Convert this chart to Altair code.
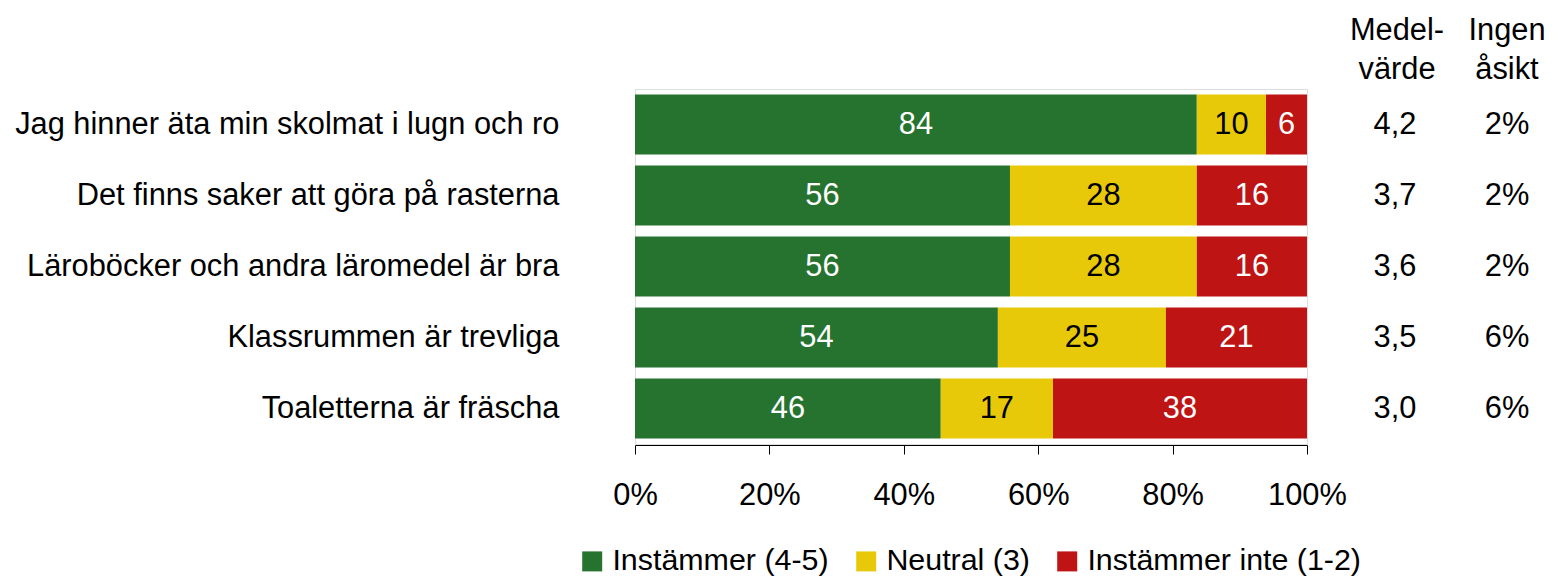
import altair as alt
import pandas as pd

statements = [
    "Jag hinner äta min skolmat i lugn och ro",
    "Det finns saker att göra på rasterna",
    "Läroböcker och andra läromedel är bra",
    "Klassrummen är trevliga",
    "Toaletterna är fräscha",
]
agree = [83.6, 55.8, 55.8, 54.0, 45.5]
neutral = [10.3, 27.8, 27.8, 25.0, 16.7]
disagree = [6.1, 16.4, 16.4, 21.0, 37.8]
agree_lbl = ["84", "56", "56", "54", "46"]
neutral_lbl = ["10", "28", "28", "25", "17"]
disagree_lbl = ["6", "16", "16", "21", "38"]
medel = ["4,2", "3,7", "3,6", "3,5", "3,0"]
ingen = ["2%", "2%", "2%", "6%", "6%"]
categories = ["Instämmer (4-5)", "Neutral (3)", "Instämmer inte (1-2)"]
colors = ["#267330", "#E8C90A", "#BE1414"]
text_colors = ["white", "black", "white"]
tick_values = [0, 20, 40, 60, 80, 100]
header_medel = ["Medel-", "värde"]
header_ingen = ["Ingen", "åsikt"]

FONT = "Liberation Sans"
FS = 30.8

rows = []
for i, s in enumerate(statements):
    start = 0.0
    for k, (vals, lbls) in enumerate([(agree, agree_lbl), (neutral, neutral_lbl), (disagree, disagree_lbl)]):
        v = vals[i]
        rows.append({
            "statement": s, "category": categories[k], "order": k,
            "start": start, "end": start + v, "mid": start + v / 2,
            "label": lbls[i], "tcolor": text_colors[k],
        })
        start += v
df = pd.DataFrame(rows)

side = pd.DataFrame({"statement": statements, "medel": medel, "ingen": ingen})
hdr = pd.DataFrame({"medel": header_medel, "ingen": header_ingen, "line": [0, 1]})

yenc = alt.Y(
    "statement:N", sort=statements,
    scale=alt.Scale(paddingInner=0.155, paddingOuter=0.0775),
    axis=alt.Axis(title=None, domain=False, ticks=False, labelFontSize=FS,
                  labelFont=FONT, labelColor="black", labelPadding=76,
                  labelLimit=700),
)

bars = alt.Chart(df).mark_bar(strokeWidth=0).encode(
    x=alt.X("start:Q", scale=alt.Scale(domain=[0, 100], nice=False),
            axis=alt.Axis(title=None, values=tick_values, grid=False,
                          labelExpr="datum.value + '%'", labelFontSize=FS,
                          labelFont=FONT, labelColor="black", labelFlush=False,
                          domainColor="black", tickColor="black", offset=1,
                          tickSize=9, labelPadding=26, domainWidth=1)),
    x2="end:Q",
    y=yenc,
    color=alt.Color("category:N", scale=alt.Scale(domain=categories, range=colors),
                    sort=categories,
                    legend=alt.Legend(title=None, orient="none", direction="horizontal",
                                      legendX=-58, legendY=457, symbolType="square",
                                      symbolSize=400, symbolStrokeWidth=0,
                                      labelFontSize=30.4, labelFont=FONT,
                                      labelColor="black", columnPadding=22,
                                      labelOffset=5, labelLimit=400)),
    order="order:Q",
)

bar_text = alt.Chart(df).mark_text(font=FONT, fontSize=FS, baseline="middle").encode(
    x="mid:Q",
    y=alt.Y("statement:N", sort=statements),
    text="label:N",
    color=alt.Color("tcolor:N", scale=None),
)

medel_text = alt.Chart(side).mark_text(font=FONT, fontSize=FS, baseline="middle", color="black").encode(
    x=alt.value(760), y=alt.Y("statement:N", sort=statements), text="medel:N")
ingen_text = alt.Chart(side).mark_text(font=FONT, fontSize=FS, baseline="middle", color="black").encode(
    x=alt.value(872), y=alt.Y("statement:N", sort=statements), text="ingen:N")

hy = alt.Y("line:Q", scale=alt.Scale(domain=[0, 1], range=[-58, -19]), axis=None)
hdr_medel = alt.Chart(hdr).mark_text(font=FONT, fontSize=FS, baseline="middle", color="black").encode(
    x=alt.value(762), y=hy, text="medel:N")
hdr_ingen = alt.Chart(hdr).mark_text(font=FONT, fontSize=FS, baseline="middle", color="black").encode(
    x=alt.value(872), y=hy, text="ingen:N")

main = alt.layer(bars, bar_text, medel_text, ingen_text)
headers = alt.layer(hdr_medel, hdr_ingen)

chart = alt.layer(main, headers).resolve_scale(y="independent").properties(
    width=672, height=355,
    autosize=alt.AutoSizeParams(type="none"),
    padding={"left": 627, "top": 81, "right": 240, "bottom": 133},
).configure_view(stroke="#D0D8E6", strokeWidth=1).configure(background="white")

chart.save("out.html", embed_options={"renderer": "svg", "actions": False})
